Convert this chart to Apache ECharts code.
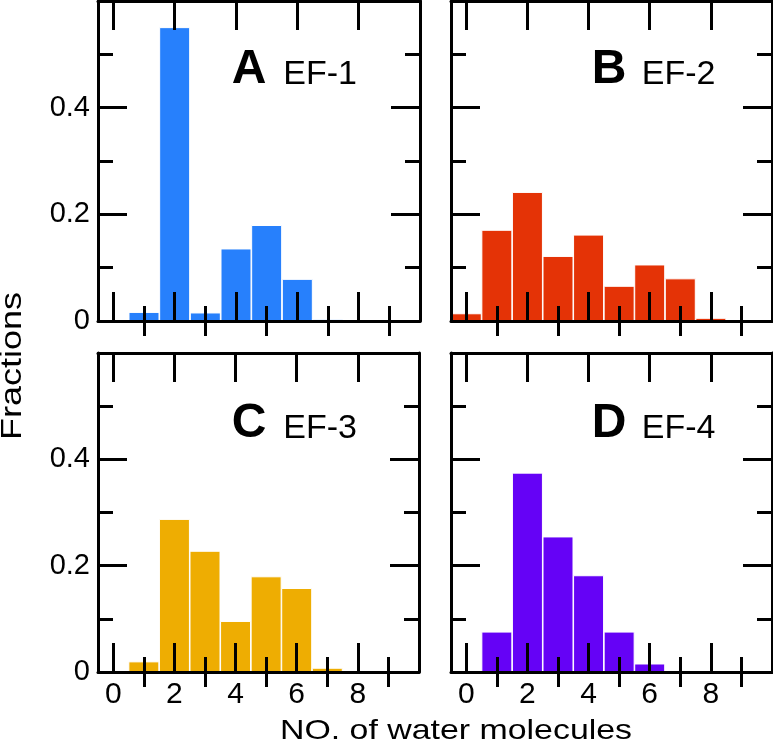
<!DOCTYPE html>
<html>
<head>
<meta charset="utf-8">
<script src="https://cdn.jsdelivr.net/npm/echarts@6/dist/echarts.min.js"></script>
<style>
html,body{margin:0;padding:0;background:#fff;}
#chart{width:773px;height:744px;}
</style>
</head>
<body>
<div id="chart"></div>
<script>
// ---- data ----
const waterCounts = [0, 1, 2, 3, 4, 5, 6, 7, 8];
const ef1 = [0, 0.017, 0.551, 0.016, 0.136, 0.180, 0.079, 0.004, 0];
const ef2 = [0.0145, 0.171, 0.242, 0.122, 0.162, 0.066, 0.106, 0.080, 0.006];
const ef3 = [0, 0.020, 0.288, 0.228, 0.096, 0.180, 0.158, 0.008, 0];
const ef4 = [0, 0.076, 0.375, 0.255, 0.182, 0.076, 0.016, 0, 0];
const panelLetters = ['A', 'B', 'C', 'D'];
const panelNames = ['EF-1', 'EF-2', 'EF-3', 'EF-4'];
const xTickLabels = [0, 2, 4, 6, 8];
const xMinorTicks = [1, 3, 5, 7, 9];
const yTickLabels = [0, 0.2, 0.4];
const xTitle = 'NO. of water molecules';
const yTitle = 'Fractions';

// ---- styling / layout ----
const seriesValues = [ef1, ef2, ef3, ef4];
const colors = ['#2780fc', '#e43306', '#eead02', '#6502f6'];
const FONT = '"Liberation Sans", Arial, Helvetica, sans-serif';
const grids = [
  {left: 98, top: 1, width: 322, height: 320},
  {left: 451, top: 1, width: 321, height: 320},
  {left: 98, top: 353, width: 321, height: 319},
  {left: 451, top: 353, width: 321, height: 319}
];
const labelPos = [
  {lx: 231.7, ly: 69.5, nx: 283.3, ny: 74.5},
  {lx: 591.7, ly: 69.5, nx: 641.7, ny: 74.5},
  {lx: 231.7, ly: 423.5, nx: 283.3, ny: 428.5},
  {lx: 591.7, ly: 423.5, nx: 641.7, ny: 428.5}
];

const xAxes = [], yAxes = [], series = [], graphics = [];
const lineStyle = {color: '#000', width: 3};

grids.forEach((g, i) => {
  const showX = i >= 2;
  const showY = i % 2 === 0;
  const base = {type: 'value', gridIndex: i, min: -0.5, max: 10, z: 10,
    splitLine: {show: false}};
  xAxes.push(Object.assign({}, base, {
    position: 'bottom',
    axisLine: {show: true, onZero: false, lineStyle},
    axisTick: {show: true, inside: true, length: 29, customValues: xTickLabels, lineStyle},
    axisLabel: {show: showX, customValues: xTickLabels, fontSize: 30, margin: 8,
      color: '#000', fontFamily: FONT}
  }));
  xAxes.push(Object.assign({}, base, {
    position: 'bottom',
    axisLine: {show: false},
    axisTick: {show: true, inside: true, length: 15, customValues: xMinorTicks, lineStyle},
    axisLabel: {show: false}
  }));
  xAxes.push(Object.assign({}, base, {
    position: 'top',
    axisLine: {show: true, onZero: false, lineStyle},
    axisTick: {show: true, inside: true, length: 29, customValues: xTickLabels, lineStyle},
    axisLabel: {show: false}
  }));
  xAxes.push(Object.assign({}, base, {
    position: 'top',
    axisLine: {show: false},
    axisTick: {show: true, inside: true, length: 15, customValues: xMinorTicks, lineStyle},
    axisLabel: {show: false}
  }));

  const ybase = {type: 'value', gridIndex: i, min: 0, max: 0.6, interval: 0.2, z: 10,
    splitLine: {show: false},
    axisLine: {show: true, onZero: false, lineStyle},
    axisTick: {show: true, inside: true, length: 29, lineStyle},
    minorTick: {show: true, splitNumber: 2, length: 15, lineStyle},
    minorSplitLine: {show: false}};
  yAxes.push(Object.assign({}, ybase, {
    position: 'left',
    axisLabel: {show: showY, customValues: yTickLabels, fontSize: 29, margin: 8,
      color: '#000', fontFamily: FONT}
  }));
  yAxes.push(Object.assign({}, ybase, {
    position: 'right',
    axisLabel: {show: false}
  }));

  const vals = seriesValues[i];
  const data = [];
  waterCounts.forEach((c, k) => { if (vals[k] > 0) data.push([c, vals[k]]); });
  series.push({
    type: 'bar',
    name: panelNames[i],
    xAxisIndex: i * 4,
    yAxisIndex: i * 2,
    data,
    barWidth: 31,
    itemStyle: {color: colors[i], borderColor: '#ffffff', borderWidth: 1},
    silent: true,
    z: 2
  });

  const p = labelPos[i];
  graphics.push({
    type: 'text', x: p.lx, y: p.ly, z: 20,
    style: {text: panelLetters[i], fill: '#000', font: 'bold 48px ' + FONT,
      align: 'left', verticalAlign: 'middle', textAlign: 'left', textVerticalAlign: 'middle'}
  });
  graphics.push({
    type: 'text', x: p.nx, y: p.ny, z: 20,
    style: {text: panelNames[i], fill: '#000', font: '34px ' + FONT,
      align: 'left', verticalAlign: 'middle', textAlign: 'left', textVerticalAlign: 'middle'}
  });
});

graphics.push({
  type: 'text', x: 456, y: 731.5, scaleX: 1.21, z: 20,
  style: {text: xTitle, fill: '#000', font: '28px ' + FONT,
    align: 'center', verticalAlign: 'middle', textAlign: 'center', textVerticalAlign: 'middle'}
});
graphics.push({
  type: 'text', x: 13, y: 366, rotation: Math.PI / 2, scaleX: 1.2, z: 20,
  style: {text: yTitle, fill: '#000', font: '30px ' + FONT,
    align: 'center', verticalAlign: 'middle', textAlign: 'center', textVerticalAlign: 'middle'}
});

const chart = echarts.init(document.getElementById('chart'), null, {renderer: 'canvas'});
chart.setOption({
  animation: false,
  backgroundColor: '#ffffff',
  grid: grids.map(g => Object.assign({containLabel: false}, g)),
  xAxis: xAxes,
  yAxis: yAxes,
  series,
  graphic: graphics
});
</script>
</body>
</html>
